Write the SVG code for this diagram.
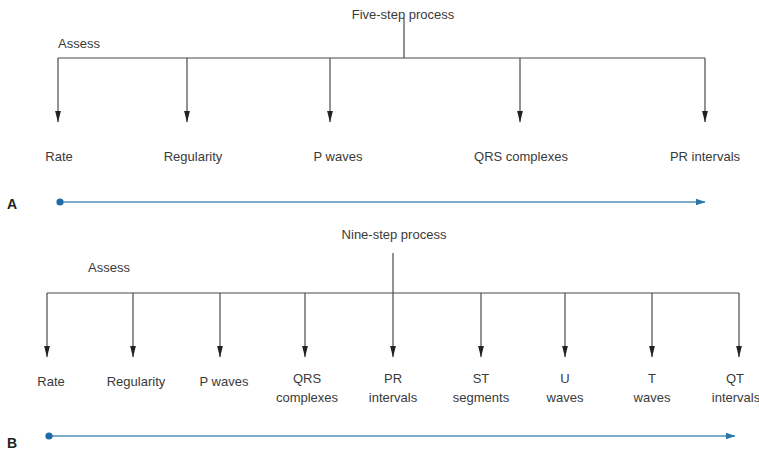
<svg xmlns="http://www.w3.org/2000/svg" width="759" height="453" viewBox="0 0 759 453">
<style>
text{font-family:"Liberation Sans",Arial,sans-serif;font-size:13px;fill:#3a3a3a;}
.c{text-anchor:middle;}
.ln{stroke:#4a4a4a;stroke-width:1.2;fill:none;}
.blue{stroke:#4b93b8;stroke-width:1.6;fill:none;}
.lbl{font-size:14px;font-weight:bold;fill:#222;}
</style>
<defs>
<marker id="ah" markerWidth="12" markerHeight="6" refX="11.5" refY="3" orient="auto" markerUnits="userSpaceOnUse" viewBox="0 0 12 6">
<path d="M0,0 L12,3 L0,6 Z" fill="#222"/>
</marker>
<marker id="bh" markerWidth="10" markerHeight="8" refX="9" refY="4" orient="auto" markerUnits="userSpaceOnUse" viewBox="0 0 10 8">
<path d="M0,0.8 L9.5,4 L0,7.2 Z" fill="#2a74a8"/>
</marker>
</defs>
<rect width="759" height="453" fill="#fff"/>

<g id="connectors">
<!-- Panel A -->
<path class="ln" d="M404,18 V58 M58,58 H705"/>
<path class="ln" d="M58,58 V122" marker-end="url(#ah)"/>
<path class="ln" d="M187,58 V122" marker-end="url(#ah)"/>
<path class="ln" d="M330,58 V122" marker-end="url(#ah)"/>
<path class="ln" d="M520,58 V122" marker-end="url(#ah)"/>
<path class="ln" d="M705,58 V122" marker-end="url(#ah)"/>
<!-- Panel B -->
<path class="ln" d="M47,293 H739"/>
<path class="ln" d="M47,293 V357" marker-end="url(#ah)"/>
<path class="ln" d="M133,293 V357" marker-end="url(#ah)"/>
<path class="ln" d="M220,293 V357" marker-end="url(#ah)"/>
<path class="ln" d="M305,293 V357" marker-end="url(#ah)"/>
<path class="ln" d="M393,253 V357" marker-end="url(#ah)"/>
<path class="ln" d="M481,293 V357" marker-end="url(#ah)"/>
<path class="ln" d="M565,293 V357" marker-end="url(#ah)"/>
<path class="ln" d="M652,293 V357" marker-end="url(#ah)"/>
<path class="ln" d="M739,293 V357" marker-end="url(#ah)"/>
<!-- timelines -->
<path class="blue" d="M60,202 H705" marker-end="url(#bh)"/>
<circle cx="60" cy="202" r="3.6" fill="#1f6aa8"/>
<path class="blue" d="M49,436 H735" marker-end="url(#bh)"/>
<circle cx="49" cy="436" r="3.6" fill="#1f6aa8"/>
</g>

<g id="panelA-title"><text class="c" x="403" y="19">Five-step process</text></g>
<g id="panelA-assess"><text x="58" y="48">Assess</text></g>
<g id="a-rate"><text class="c" x="59" y="161">Rate</text></g>
<g id="a-regularity"><text class="c" x="193" y="161">Regularity</text></g>
<g id="a-pwaves"><text class="c" x="338" y="161">P waves</text></g>
<g id="a-qrs"><text class="c" x="521" y="161">QRS complexes</text></g>
<g id="a-pr"><text class="c" x="705" y="161">PR intervals</text></g>
<g id="label-A"><text class="lbl" x="7" y="209">A</text></g>

<g id="panelB-title"><text class="c" x="394" y="239">Nine-step process</text></g>
<g id="panelB-assess"><text x="88" y="272">Assess</text></g>
<g id="b-rate"><text class="c" x="51" y="386">Rate</text></g>
<g id="b-regularity"><text class="c" x="136" y="386">Regularity</text></g>
<g id="b-pwaves"><text class="c" x="224" y="386">P waves</text></g>
<g id="b-qrs"><text class="c" x="307" y="383">QRS</text><text class="c" x="307" y="402">complexes</text></g>
<g id="b-pr"><text class="c" x="393" y="383">PR</text><text class="c" x="393" y="402">intervals</text></g>
<g id="b-st"><text class="c" x="481" y="383">ST</text><text class="c" x="481" y="402">segments</text></g>
<g id="b-u"><text class="c" x="565" y="383">U</text><text class="c" x="565" y="402">waves</text></g>
<g id="b-t"><text class="c" x="652" y="383">T</text><text class="c" x="652" y="402">waves</text></g>
<g id="b-qt"><text class="c" x="735" y="383">QT</text><text class="c" x="736" y="402">intervals</text></g>
<g id="label-B"><text class="lbl" x="7" y="448">B</text></g>
</svg>
